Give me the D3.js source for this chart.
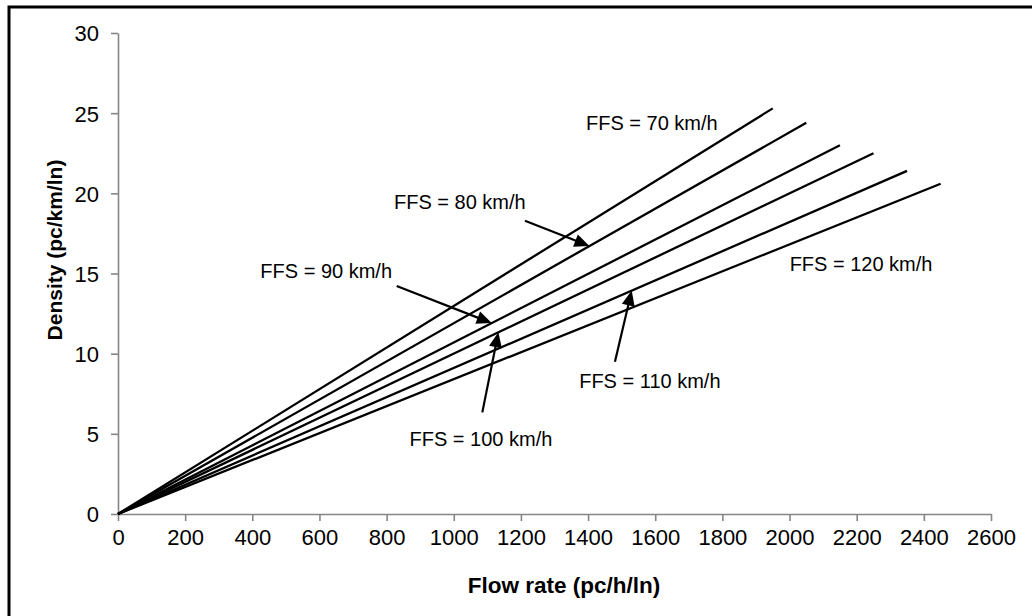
<!DOCTYPE html>
<html>
<head>
<meta charset="utf-8">
<script src="https://cdn.jsdelivr.net/npm/d3@7"></script>
<style>
  body { margin: 0; background: #fff; }
  svg { display: block; font-family: "Liberation Sans", Arial, sans-serif; }
</style>
</head>
<body>
<svg id="chart" width="1032" height="616"></svg>
<script>
// free-flow speed of each curve and the point where each curve stops
const speeds = [70, 80, 90, 100, 110, 120];
const endFlow = [1950, 2050, 2150, 2250, 2350, 2450];
const endDensity = [25.3, 24.4, 23.0, 22.5, 21.4, 20.6];

const xTicks = d3.range(0, 2601, 200);
const yTicks = [0, 5, 10, 15, 20, 25, 30];

// label anchors (flow, density) per speed
const labelFlow = [1590, 1018, 620, 1081, 1584, 2213];
const labelDensity = [23.95, 19.02, 14.74, 4.24, 7.84, 15.16];

// arrows: which curve, tail point, and flow where the tip meets the curve
const arrowSpeed = [80, 90, 100, 110];
const arrowTailFlow = [1212, 830, 1085, 1480];
const arrowTailDensity = [18.29, 14.22, 6.34, 9.5];
const arrowTipFlow = [1404, 1113, 1133, 1530];

let svg = d3.select('#chart');

let margin = {left: 118, right: 1032 - 991, top: 33, bottom: 616 - 514};

let x = d3.scaleLinear().domain([0, 2600]).range([margin.left, 991]);
let y = d3.scaleLinear().domain([0, 30]).range([514, margin.top]);

// outer frame (only left and top edge are inside the picture)
svg.append('rect')
  .attr('x', 9)
  .attr('y', 7)
  .attr('width', 1100)
  .attr('height', 700)
  .attr('fill', 'none')
  .attr('stroke', '#000')
  .attr('stroke-width', 3);

let axisColor = '#868686';

let xAxis = svg.append('g')
  .attr('transform', 'translate(0,514)')
  .call(d3.axisBottom(x).tickValues(xTicks).tickFormat(d3.format('d'))
    .tickSize(7).tickSizeOuter(0).tickPadding(8));

let yAxis = svg.append('g')
  .attr('transform', `translate(${margin.left},0)`)
  .call(d3.axisLeft(y).tickValues(yTicks).tickSize(7).tickSizeOuter(0).tickPadding(12));

[xAxis, yAxis].forEach(function(g) {
  g.select('.domain').attr('stroke', axisColor).attr('stroke-width', 1.6);
  g.selectAll('.tick line').attr('stroke', axisColor).attr('stroke-width', 1.6);
  g.selectAll('.tick text')
    .attr('fill', '#000')
    .style('font-size', '22px')
    .style('font-family', '"Liberation Sans", Arial, sans-serif');
});
xAxis.selectAll('.tick text').attr('dy', '0.71em');
yAxis.selectAll('.tick text').attr('dy', '0.36em');

// axis titles
svg.append('text')
  .text('Flow rate (pc/h/ln)')
  .attr('x', 564)
  .attr('y', 593)
  .attr('text-anchor', 'middle')
  .style('font-weight', 'bold')
  .style('font-size', '22.5px');

svg.append('text')
  .text('Density (pc/km/ln)')
  .attr('text-anchor', 'middle')
  .attr('transform', 'translate(62,250)rotate(-90)')
  .style('font-weight', 'bold')
  .style('font-size', '21px');

// curves
let lineData = speeds.map((s, i) => ({
  speed: s,
  points: [[0, 0], [endFlow[i], endDensity[i]]]
}));

let line = d3.line()
  .x((d) => x(d[0]))
  .y((d) => y(d[1]));

svg.append('g')
  .selectAll('path')
  .data(lineData)
  .enter()
  .append('path')
  .attr('d', (d) => line(d.points))
  .attr('fill', 'none')
  .attr('stroke', '#000')
  .attr('stroke-width', 2.3);

// labels
svg.append('g')
  .selectAll('text')
  .data(speeds)
  .enter()
  .append('text')
  .text((d) => `FFS = ${d} km/h`)
  .attr('x', (d, i) => x(labelFlow[i]))
  .attr('y', (d, i) => y(labelDensity[i]))
  .attr('text-anchor', 'middle')
  .style('font-size', '20px');

// arrows
let arrows = arrowSpeed.map((s, i) => {
  let k = speeds.indexOf(s);
  let tipDensity = arrowTipFlow[i] * endDensity[k] / endFlow[k];
  return {
    x1: x(arrowTailFlow[i]),
    y1: y(arrowTailDensity[i]),
    x2: x(arrowTipFlow[i]),
    y2: y(tipDensity)
  };
});

let headLen = 15,
    headHalf = 6.5;

let arrowG = svg.append('g');

arrows.forEach(function(a) {
  let dx = a.x2 - a.x1,
      dy = a.y2 - a.y1,
      len = Math.sqrt(dx * dx + dy * dy),
      ux = dx / len,
      uy = dy / len;
  let bx = a.x2 - ux * headLen,
      by = a.y2 - uy * headLen;

  arrowG.append('line')
    .attr('x1', a.x1)
    .attr('y1', a.y1)
    .attr('x2', bx + ux * 2)
    .attr('y2', by + uy * 2)
    .attr('stroke', '#000')
    .attr('stroke-width', 2.2);

  arrowG.append('path')
    .attr('d', `M${a.x2},${a.y2}L${bx - uy * headHalf},${by + ux * headHalf}L${bx + uy * headHalf},${by - ux * headHalf}Z`)
    .attr('fill', '#000');
});
</script>
</body>
</html>
